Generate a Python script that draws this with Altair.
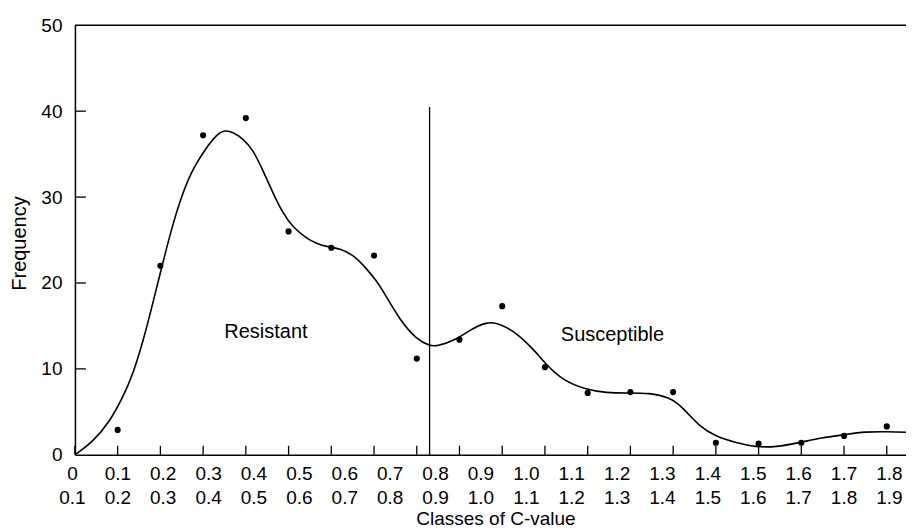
import altair as alt
import pandas as pd

FONT = "Liberation Sans"

# ---- data ----
top_labels = ["0", "0.1", "0.2", "0.3", "0.4", "0.5", "0.6", "0.7", "0.8", "0.9",
              "1.0", "1.1", "1.2", "1.3", "1.4", "1.5", "1.6", "1.7", "1.8"]
bottom_labels = ["0.1", "0.2", "0.3", "0.4", "0.5", "0.6", "0.7", "0.8", "0.9", "1.0",
                 "1.1", "1.2", "1.3", "1.4", "1.5", "1.6", "1.7", "1.8", "1.9"]

dot_x = [0.1, 0.2, 0.3, 0.4, 0.5, 0.6, 0.7, 0.8, 0.9, 1.0,
         1.1, 1.2, 1.3, 1.4, 1.5, 1.6, 1.7, 1.8, 1.9]
dot_freq = [2.9, 22.0, 37.2, 39.2, 26.0, 24.1, 23.2, 11.2, 13.4, 17.3,
            10.2, 7.2, 7.3, 7.3, 1.4, 1.3, 1.4, 2.2, 3.3]

curve_x = [0.0, 0.043, 0.082, 0.113, 0.136, 0.160, 0.180, 0.195, 0.210, 0.230,
           0.253, 0.277, 0.308, 0.331, 0.347, 0.370, 0.393, 0.417, 0.440, 0.464,
           0.487, 0.510, 0.542, 0.565, 0.592, 0.620, 0.651, 0.682, 0.705, 0.720,
           0.760, 0.800, 0.830, 0.846, 0.893, 0.923, 0.963, 0.994,
           1.033, 1.071, 1.103, 1.141, 1.195, 1.244, 1.295, 1.344, 1.391, 1.421,
           1.461, 1.501, 1.548, 1.592, 1.641, 1.695, 1.749, 1.796, 1.851, 1.900, 1.959]
curve_y = [0.0, 1.55, 3.9, 6.8, 9.4, 13.3, 17.2, 20.2, 23.2, 27.0,
           30.6, 33.4, 35.8, 37.2, 37.8, 37.6, 36.8, 35.5, 33.1, 30.4,
           28.1, 26.5, 25.2, 24.6, 24.2, 24.0, 23.3, 21.7, 20.3, 19.2,
           15.7, 13.4, 12.7, 12.6, 13.4, 14.5, 15.5, 15.3,
           14.2, 12.4, 10.5, 8.7, 7.6, 7.2, 7.2, 7.2, 6.7, 5.6,
           3.3, 2.1, 1.4, 0.9, 0.9, 1.4, 2.0, 2.3, 2.7, 2.7, 2.6]

x_ticks = [0.0, 0.1, 0.2, 0.3, 0.4, 0.5, 0.6, 0.7, 0.8, 0.9,
           1.0, 1.1, 1.2, 1.3, 1.4, 1.5, 1.6, 1.7, 1.8, 1.9]
y_ticks = [10, 20, 30, 40]
y_labels = [0, 10, 20, 30, 40, 50]

divider_x = [0.83]
divider_top = [40.5]

note_text = ["Resistant", "Susceptible"]
note_x = [0.447, 1.258]
note_y = [14.3, 14.0]

# ---- layout ----
W, H = 832, 430
X_DOMAIN = [0, 1.945]
LABEL_DOMAIN = [0.0055, 1.8365]

xs = alt.Scale(domain=X_DOMAIN, nice=False, zero=False)
ys = alt.Scale(domain=[0, 50], nice=False)

curve_df = pd.DataFrame({"x": curve_x, "y": curve_y})
dots_df = pd.DataFrame({"x": dot_x, "y": dot_freq})
xt_df = pd.DataFrame({"x": x_ticks})
yt_df = pd.DataFrame({"y": y_ticks})
div_df = pd.DataFrame({"x": divider_x, "y0": [0], "y1": divider_top})
note_df = pd.DataFrame({"t": note_text, "x": note_x, "y": note_y})
lab_df = pd.DataFrame({"v": [float(s) for s in top_labels], "top": top_labels, "bottom": bottom_labels})

curve = alt.Chart(curve_df).mark_line(
    interpolate="basis", color="black", strokeWidth=1.6, clip=True
).encode(
    x=alt.X("x:Q", scale=xs, axis=alt.Axis(
        labels=False, ticks=False, grid=False, domain=True, domainColor="black",
        domainWidth=1.5, title="Classes of C-value", titleFont=FONT, titleFontSize=19,
        titleFontWeight="normal", titleColor="black", titleX=421, titleY=70,
        titleAlign="center", titleBaseline="alphabetic")),
    y=alt.Y("y:Q", scale=ys, axis=alt.Axis(
        values=y_labels, ticks=False, grid=False, domain=True, domainColor="black",
        domainWidth=1.5, labelFont=FONT, labelFontSize=19, labelColor="black",
        labelPadding=13, title="Frequency", titleFont=FONT, titleFontSize=20,
        titleFontWeight="normal", titleColor="black", titleX=-49, titleY=218,
        titleAngle=270, titleAlign="center", titleBaseline="alphabetic")),
)

dots = alt.Chart(dots_df).mark_circle(color="black", opacity=1, size=38).encode(
    x=alt.X("x:Q", scale=xs), y=alt.Y("y:Q", scale=ys)
)

xticks = alt.Chart(xt_df).mark_rule(color="black", strokeWidth=1.3).encode(
    x=alt.X("x:Q", scale=xs), y=alt.value(H), y2=alt.value(H - 9)
)

yticks = alt.Chart(yt_df).mark_rule(color="black", strokeWidth=1.3).encode(
    y=alt.Y("y:Q", scale=ys), x=alt.value(0), x2=alt.value(11)
)

divider = alt.Chart(div_df).mark_rule(color="black", strokeWidth=1.3).encode(
    x=alt.X("x:Q", scale=xs), y=alt.Y("y0:Q", scale=ys), y2="y1:Q"
)

topline = alt.Chart(xt_df.head(1)).mark_rule(color="black", strokeWidth=1.5).encode(
    x=alt.value(0), x2=alt.value(W), y=alt.value(0)
)

notes = alt.Chart(note_df).mark_text(
    font=FONT, fontSize=20, color="black", align="center", baseline="middle"
).encode(x=alt.X("x:Q", scale=xs), y=alt.Y("y:Q", scale=ys), text="t:N")

main = alt.layer(curve, dots, xticks, yticks, divider, topline, notes)

lab_scale = alt.Scale(domain=LABEL_DOMAIN, nice=False, zero=False)
top_row = alt.Chart(lab_df).mark_text(
    font=FONT, fontSize=19, color="black", align="center", baseline="alphabetic"
).encode(x=alt.X("v:Q", scale=lab_scale, axis=None), y=alt.value(H + 25), text="top:N")
bottom_row = alt.Chart(lab_df).mark_text(
    font=FONT, fontSize=19, color="black", align="center", baseline="alphabetic"
).encode(x=alt.X("v:Q", scale=lab_scale, axis=None), y=alt.value(H + 49), text="bottom:N")
labels = alt.layer(top_row, bottom_row)

chart = alt.layer(main, labels).resolve_scale(x="independent").properties(
    width=W, height=H,
    autosize=alt.AutoSizeParams(type="none"),
    padding={"left": 67, "top": 17, "right": 0, "bottom": 75},
    background="white",
).configure_view(stroke=None)

chart.save("out.html", embed_options={"renderer": "svg", "actions": False})
